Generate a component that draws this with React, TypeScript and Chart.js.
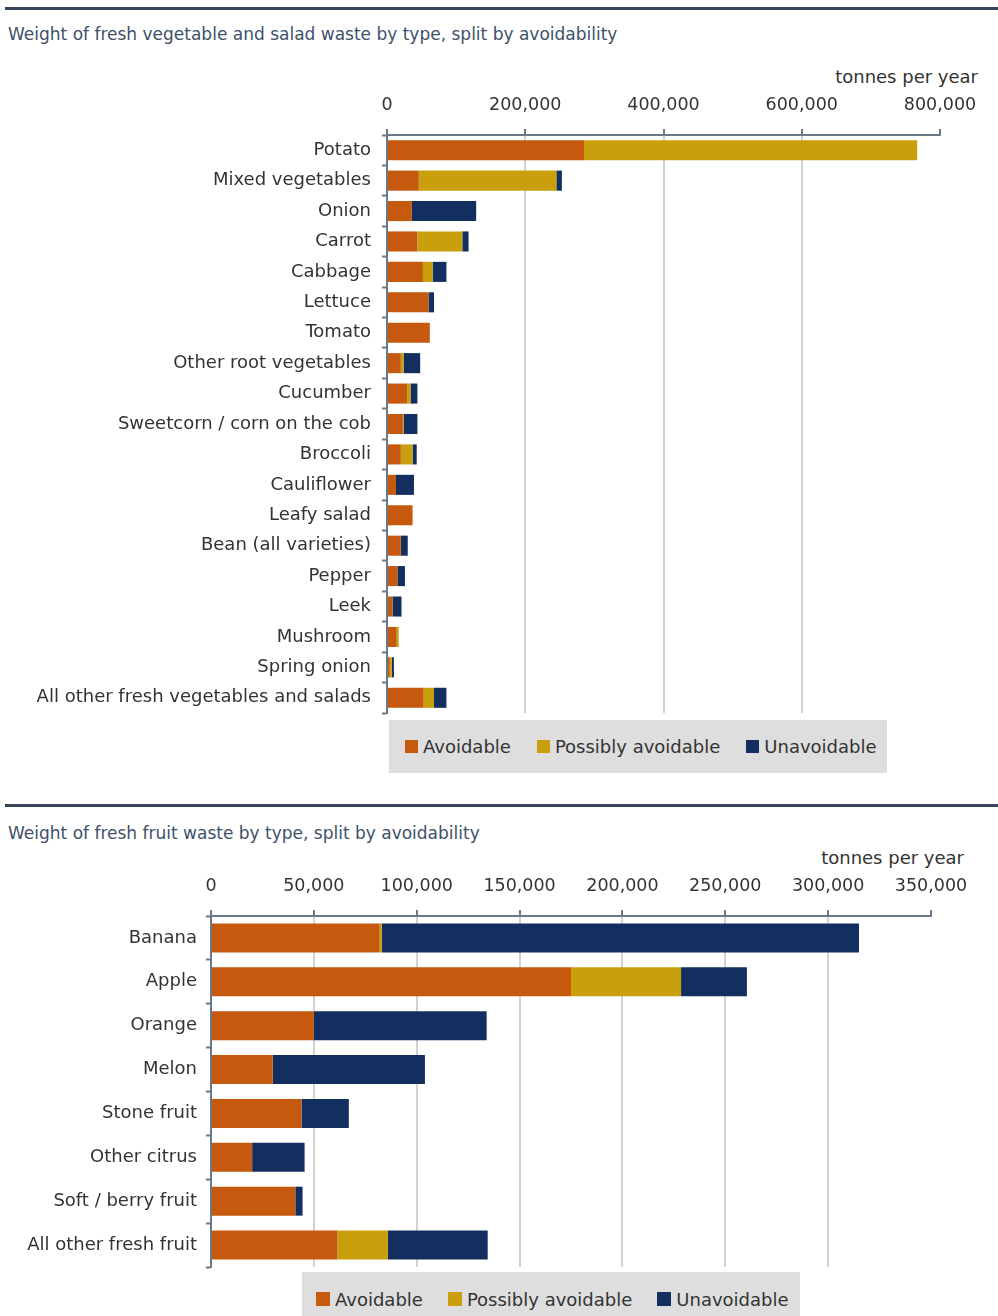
import React, { useEffect, useRef } from "react";
import { Chart, registerables } from "chart.js";

Chart.register(...registerables);

const SERIES_NAMES = ["Avoidable", "Possibly avoidable", "Unavoidable"];
const SERIES_COLORS = ["#c55a0e", "#c9a00c", "#122f60"];

const vegCategories = [
  "Potato",
  "Mixed vegetables",
  "Onion",
  "Carrot",
  "Cabbage",
  "Lettuce",
  "Tomato",
  "Other root vegetables",
  "Cucumber",
  "Sweetcorn / corn on the cob",
  "Broccoli",
  "Cauliflower",
  "Leafy salad",
  "Bean (all varieties)",
  "Pepper",
  "Leek",
  "Mushroom",
  "Spring onion",
  "All other fresh vegetables and salads",
];
const vegAvoidable = [285000, 46000, 36000, 44000, 52000, 60000, 62000, 20000, 29000, 23000, 20000, 13000, 37000, 20000, 15000, 8000, 14000, 4000, 53000];
const vegPossiblyAvoidable = [482000, 199000, 0, 65000, 14000, 0, 0, 4000, 5000, 1000, 17000, 0, 0, 0, 0, 0, 3000, 3000, 15000];
const vegUnavoidable = [0, 8000, 93000, 9000, 20000, 8000, 0, 24000, 10000, 20000, 6000, 26000, 0, 10000, 11000, 13000, 0, 3000, 18000];
const vegTickMax = 800000;
const vegTickStep = 200000;

const fruitCategories = [
  "Banana",
  "Apple",
  "Orange",
  "Melon",
  "Stone fruit",
  "Other citrus",
  "Soft / berry fruit",
  "All other fresh fruit",
];
const fruitAvoidable = [82000, 175000, 50000, 30000, 44000, 20000, 41000, 61500];
const fruitPossiblyAvoidable = [1000, 53500, 0, 0, 0, 0, 0, 24500];
const fruitUnavoidable = [232000, 32000, 84000, 74000, 23000, 25500, 3500, 48500];
const fruitTickMax = 350000;
const fruitTickStep = 50000;

const FONT = "'DejaVu Sans', Verdana, sans-serif";
const TEXT_COLOR = "#333333";
const TITLE_COLOR = "#3d5169";
const AXIS_COLOR = "#6b7889";

type BarChartProps = {
  categories: string[];
  series: number[][];
  max: number;
  step: number;
  left: number;
  top: number;
  width: number;
  height: number;
  yAxisWidth: number;
  xAxisHeight: number;
  rightPad: number;
  yLabelPad: number;
  xLabelPad: number;
};

function BarChart(p: BarChartProps) {
  const ref = useRef<HTMLCanvasElement | null>(null);
  useEffect(() => {
    if (!ref.current) return;
    const chart = new Chart(ref.current, {
      type: "bar",
      data: {
        labels: p.categories,
        datasets: SERIES_NAMES.map((name, i) => ({
          label: name,
          data: p.series[i],
          backgroundColor: SERIES_COLORS[i],
          borderWidth: 0,
          barPercentage: 0.66,
          categoryPercentage: 1,
        })),
      },
      options: {
        indexAxis: "y",
        animation: false,
        responsive: false,
        maintainAspectRatio: false,
        layout: { padding: { left: 0, right: p.rightPad, top: 0, bottom: 2 } },
        plugins: {
          legend: { display: false },
          tooltip: { enabled: false },
          title: { display: false },
        },
        scales: {
          x: {
            position: "top",
            stacked: true,
            min: 0,
            max: p.max,
            ticks: {
              stepSize: p.step,
              maxRotation: 0,
              autoSkip: false,
              padding: p.xLabelPad,
              color: TEXT_COLOR,
              font: { family: FONT, size: 17.5 },
              callback: (v: any) => Number(v).toLocaleString("en-US"),
            },
            grid: {
              color: (ctx: any) =>
                ctx.tick && ctx.tick.value === p.max ? "rgba(0,0,0,0)" : "#d2d2d2",
              lineWidth: 2,
              tickColor: AXIS_COLOR,
              tickLength: 6,
              tickWidth: 2,
            },
            border: { color: AXIS_COLOR, width: 2 },
            afterFit: (s: any) => {
              s.height = p.xAxisHeight;
            },
          },
          y: {
            stacked: true,
            ticks: {
              padding: p.yLabelPad,
              color: TEXT_COLOR,
              autoSkip: false,
              font: { family: FONT, size: 18 },
            },
            grid: {
              drawOnChartArea: false,
              offset: true,
              tickLength: 5,
              tickColor: AXIS_COLOR,
              tickWidth: 2,
            },
            border: { color: AXIS_COLOR, width: 2 },
            afterFit: (s: any) => {
              s.width = p.yAxisWidth;
              s.paddingTop = 0;
              s.paddingBottom = 0;
            },
          },
        },
      } as any,
    });
    return () => chart.destroy();
  }, []);
  return (
    <canvas
      ref={ref}
      width={p.width}
      height={p.height}
      style={{ position: "absolute", left: p.left, top: p.top, width: p.width, height: p.height }}
    />
  );
}

type LegendProps = {
  left: number;
  top: number;
  width: number;
  height: number;
  padLeft: number;
  gap: number;
  square: number;
};

function Legend(p: LegendProps) {
  return (
    <div
      style={{
        position: "absolute",
        left: p.left,
        top: p.top,
        width: p.width,
        height: p.height,
        background: "#dedede",
        display: "flex",
        alignItems: "center",
        paddingLeft: p.padLeft,
        boxSizing: "border-box",
        fontFamily: FONT,
        fontSize: 18,
        color: TEXT_COLOR,
        whiteSpace: "nowrap",
      }}
    >
      {SERIES_NAMES.map((name, i) => (
        <div key={name} style={{ display: "flex", alignItems: "center", marginRight: p.gap }}>
          <span
            style={{
              display: "inline-block",
              width: p.square,
              height: p.square,
              background: SERIES_COLORS[i],
              marginRight: 5,
            }}
          />
          <span>{name}</span>
        </div>
      ))}
    </div>
  );
}

const textAbs = (left: number | undefined, right: number | undefined, centerY: number, size: number, color: string): React.CSSProperties => ({
  position: "absolute",
  left,
  right,
  top: centerY,
  transform: "translateY(-50%)",
  fontFamily: FONT,
  fontSize: size,
  color,
  lineHeight: 1,
  whiteSpace: "nowrap",
});

export default function App() {
  return (
    <div style={{ position: "absolute", left: 0, top: 0, width: 998, height: 1316, background: "#ffffff", overflow: "hidden" }}>
      <div style={{ position: "absolute", left: 5, top: 7, width: 993, height: 3, background: "#37455a" }} />
      <div style={textAbs(8, undefined, 34, 17, TITLE_COLOR)}>
        Weight of fresh vegetable and salad waste by type, split by avoidability
      </div>
      <div style={textAbs(undefined, 998 - 978, 77, 18, TEXT_COLOR)}>tonnes per year</div>
      <BarChart
        categories={vegCategories}
        series={[vegAvoidable, vegPossiblyAvoidable, vegUnavoidable]}
        max={vegTickMax}
        step={vegTickStep}
        left={0}
        top={89}
        width={998}
        height={626}
        yAxisWidth={387}
        xAxisHeight={46}
        rightPad={58}
        yLabelPad={11}
        xLabelPad={13}
      />
      <Legend left={389} top={720} width={498} height={53} padLeft={16} gap={26} square={13} />

      <div style={{ position: "absolute", left: 5, top: 804, width: 993, height: 3, background: "#37455a" }} />
      <div style={textAbs(8, undefined, 833, 17, TITLE_COLOR)}>
        Weight of fresh fruit waste by type, split by avoidability
      </div>
      <div style={textAbs(undefined, 998 - 964, 858, 18, TEXT_COLOR)}>tonnes per year</div>
      <BarChart
        categories={fruitCategories}
        series={[fruitAvoidable, fruitPossiblyAvoidable, fruitUnavoidable]}
        max={fruitTickMax}
        step={fruitTickStep}
        left={0}
        top={870}
        width={998}
        height={399}
        yAxisWidth={211}
        xAxisHeight={46}
        rightPad={67}
        yLabelPad={9}
        xLabelPad={13}
      />
      <Legend left={302} top={1272} width={498} height={54} padLeft={14} gap={25} square={14} />
    </div>
  );
}
